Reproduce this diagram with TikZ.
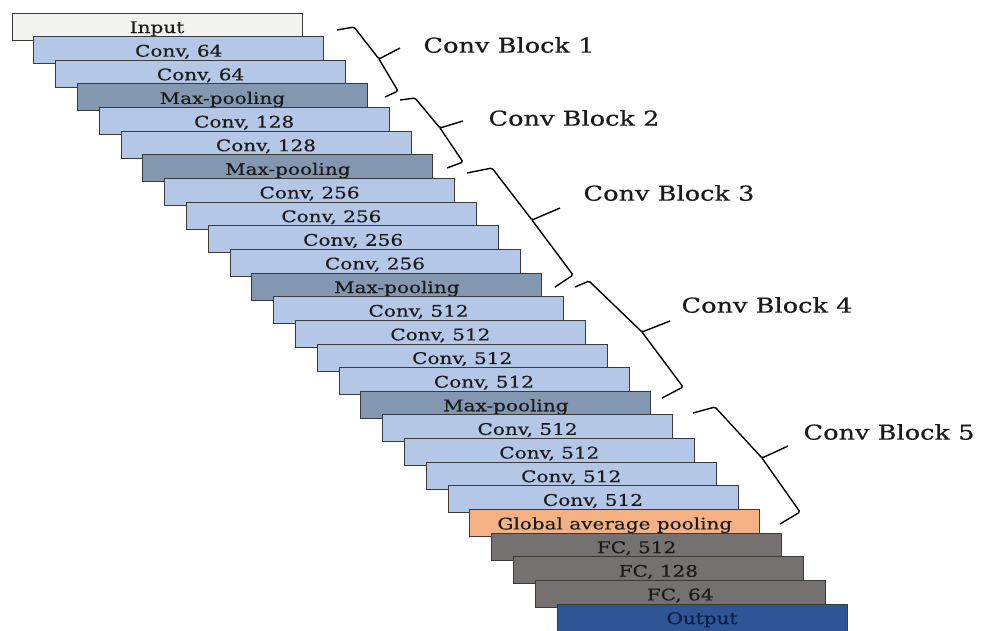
\documentclass[tikz,border=0pt]{standalone}
\usepackage{fontspec}
\setmainfont{DejaVu Serif}[FakeStretch=1.25, FakeBold=0.4]
\usetikzlibrary{positioning}
\definecolor{clrinput}{HTML}{F2F2F0}
\definecolor{clrconv}{HTML}{B4C7E7}
\definecolor{clrpool}{HTML}{8497B0}
\definecolor{clrgap}{HTML}{F4B183}
\definecolor{clrfc}{HTML}{767171}
\definecolor{clroutput}{HTML}{2F5597}
\definecolor{clrborder}{HTML}{3A3A3A}
\definecolor{clrtext}{HTML}{1A1A1A}
\definecolor{clrouttext}{HTML}{0F1E45}

\begin{document}
\begin{tikzpicture}[
    x=1pt, y=1pt,
    every node/.style={font=\rmfamily},
    layer/.style={draw=clrborder, line width=0.9pt, minimum width=290pt,
                  minimum height=27pt, inner sep=0pt, outer sep=0pt,
                  text height=14pt, text depth=1pt,
                  font=\fontsize{16}{18}\selectfont, text=clrtext},
    bracket/.style={draw=black, line width=1.4pt, line join=round, rounded corners=1.5pt},
    blocklabel/.style={font=\fontsize{20.5}{23}\selectfont, text=clrtext, anchor=west},
]
\useasboundingbox (0,0) rectangle (981,-630);
\node[layer, fill=clrinput, anchor=north west] (n_1) at (12,-13) {Input};
\node[layer, fill=clrconv, below=-3.36pt of n_1, xshift=21.8pt] (n_2) {Conv, 64};
\node[layer, fill=clrconv, below=-3.36pt of n_2, xshift=21.8pt] (n_3) {Conv, 64};
\node[layer, fill=clrpool, below=-3.36pt of n_3, xshift=21.8pt] (n_4) {Max-pooling};
\node[layer, fill=clrconv, below=-3.36pt of n_4, xshift=21.8pt] (n_5) {Conv, 128};
\node[layer, fill=clrconv, below=-3.36pt of n_5, xshift=21.8pt] (n_6) {Conv, 128};
\node[layer, fill=clrpool, below=-3.36pt of n_6, xshift=21.8pt] (n_7) {Max-pooling};
\node[layer, fill=clrconv, below=-3.36pt of n_7, xshift=21.8pt] (n_8) {Conv, 256};
\node[layer, fill=clrconv, below=-3.36pt of n_8, xshift=21.8pt] (n_9) {Conv, 256};
\node[layer, fill=clrconv, below=-3.36pt of n_9, xshift=21.8pt] (n_10) {Conv, 256};
\node[layer, fill=clrconv, below=-3.36pt of n_10, xshift=21.8pt] (n_11) {Conv, 256};
\node[layer, fill=clrpool, below=-3.36pt of n_11, xshift=21.8pt] (n_12) {Max-pooling};
\node[layer, fill=clrconv, below=-3.36pt of n_12, xshift=21.8pt] (n_13) {Conv, 512};
\node[layer, fill=clrconv, below=-3.36pt of n_13, xshift=21.8pt] (n_14) {Conv, 512};
\node[layer, fill=clrconv, below=-3.36pt of n_14, xshift=21.8pt] (n_15) {Conv, 512};
\node[layer, fill=clrconv, below=-3.36pt of n_15, xshift=21.8pt] (n_16) {Conv, 512};
\node[layer, fill=clrpool, below=-3.36pt of n_16, xshift=21.8pt] (n_17) {Max-pooling};
\node[layer, fill=clrconv, below=-3.36pt of n_17, xshift=21.8pt] (n_18) {Conv, 512};
\node[layer, fill=clrconv, below=-3.36pt of n_18, xshift=21.8pt] (n_19) {Conv, 512};
\node[layer, fill=clrconv, below=-3.36pt of n_19, xshift=21.8pt] (n_20) {Conv, 512};
\node[layer, fill=clrconv, below=-3.36pt of n_20, xshift=21.8pt] (n_21) {Conv, 512};
\node[layer, fill=clrgap, below=-3.36pt of n_21, xshift=21.8pt] (n_22) {Global average pooling};
\node[layer, fill=clrfc, below=-3.36pt of n_22, xshift=21.8pt] (n_23) {FC, 512};
\node[layer, fill=clrfc, below=-3.36pt of n_23, xshift=21.8pt] (n_24) {FC, 128};
\node[layer, fill=clrfc, below=-3.36pt of n_24, xshift=21.8pt] (n_25) {FC, 64};
\node[layer, fill=clroutput, text=clrouttext, below=-3.36pt of n_25, xshift=21.8pt] (n_26) {Output};
% braces round the five blocks
\draw[bracket] (337,-30) -- (354,-27) -- (379,-59) -- (400,-48) (379,-59) -- (398,-91) -- (385,-97);
\draw[bracket] (400,-100) -- (415,-98) -- (440,-128) -- (463,-121) (440,-128) -- (463,-162) -- (447,-168);
\draw[bracket] (467,-173) -- (492,-168) -- (532,-220) -- (560,-208) (532,-220) -- (573,-275) -- (555,-287);
\draw[bracket] (575,-287) -- (589,-281) -- (642,-332) -- (670,-321) (642,-332) -- (683,-387) -- (662,-398);
\draw[bracket] (693,-413) -- (715,-407) -- (762,-458) -- (788,-446) (762,-458) -- (800,-512) -- (780,-524);
\node[blocklabel] (lbl_1) at (420,-45) {Conv Block 1};
\node[blocklabel] (lbl_2) at (485,-118) {Conv Block 2};
\node[blocklabel] (lbl_3) at (580,-193) {Conv Block 3};
\node[blocklabel] (lbl_4) at (678,-305) {Conv Block 4};
\node[blocklabel] (lbl_5) at (800,-432) {Conv Block 5};
\end{tikzpicture}
\end{document}
